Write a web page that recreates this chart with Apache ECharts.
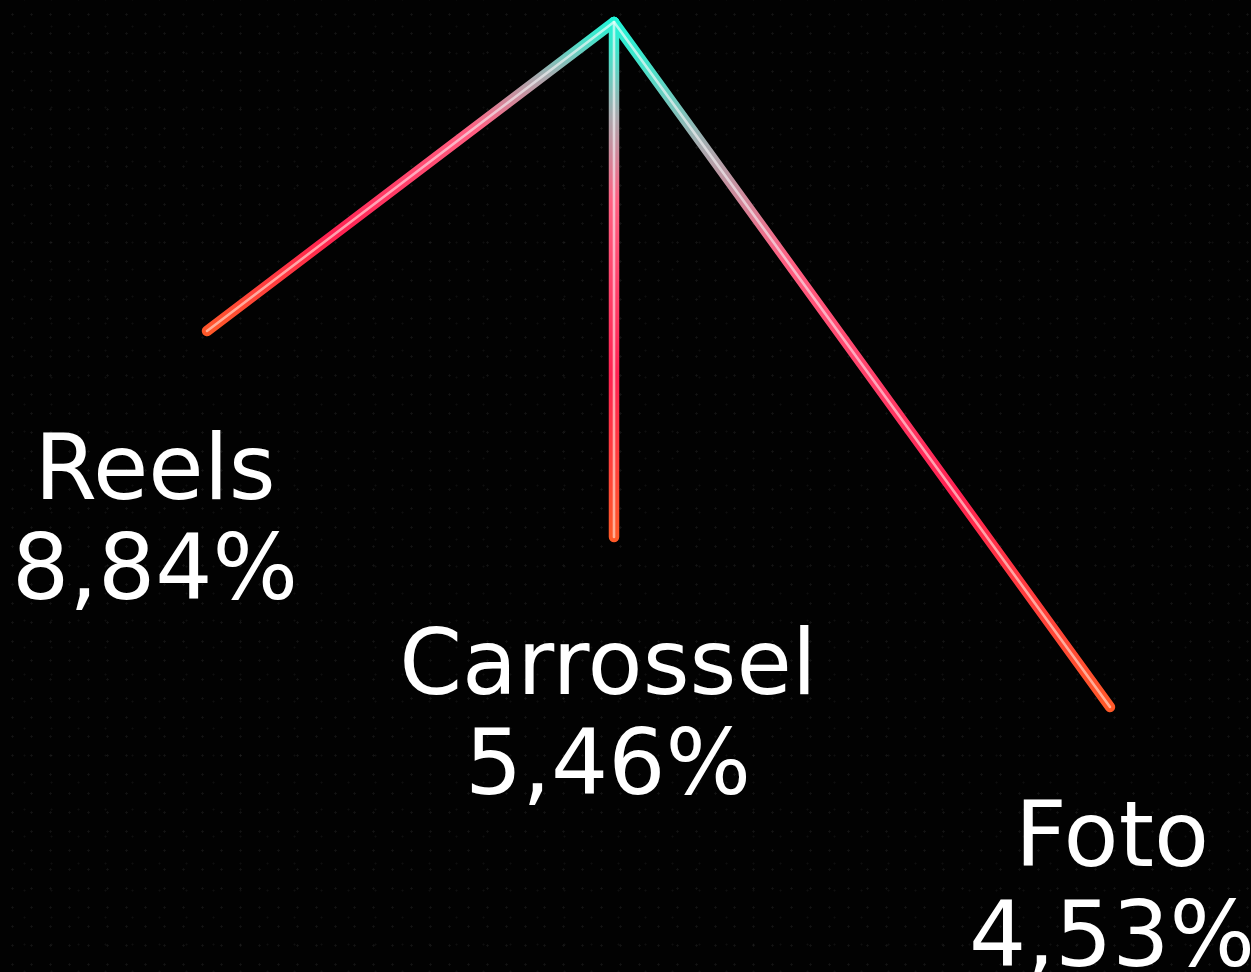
<!DOCTYPE html>
<html>
<head>
<meta charset="utf-8">
<script src="https://cdn.jsdelivr.net/npm/echarts@6/dist/echarts.min.js"></script>
<style>
  html, body { margin: 0; padding: 0; width: 100%; height: 100%; background: #020202; }
  body {
    background-color: #020202;
    background-image:
      radial-gradient(circle, rgba(255,255,255,0.07) 0.9px, transparent 1.3px),
      radial-gradient(circle, rgba(255,255,255,0.05) 0.8px, transparent 1.2px);
    background-size: 19px 19px, 27px 27px;
    background-position: 3px 5px, 11px 13px;
  }
  #chart { width: 1251px; height: 972px; }
</style>
</head>
<body>
<div id="chart"></div>
<script>
// ---- data ----
const categories = ['Reels', 'Carrossel', 'Foto'];
const values = [8.84, 5.46, 4.53];           // engagement %
const spread = [-4.07, 0, 4.96];             // horizontal end of each branch (axis units, apex = 0)
const depth = [3.09, 5.15, 6.85];            // drop of each branch below the apex (axis units)

// ---- layout / style ----
const labelOffsets = [[-52, 22], [-6, 11], [2, 13]];

const chart = echarts.init(document.getElementById('chart'), null, { renderer: 'canvas' });

function outerGradient() {
  return new echarts.graphic.LinearGradient(0, 0, 0, 1, [
    { offset: 0, color: '#1ff5d8' },
    { offset: 0.06, color: '#3fe6cc' },
    { offset: 0.19, color: '#aaa9ae' },
    { offset: 0.35, color: '#ff6082' },
    { offset: 0.68, color: '#ff2252' },
    { offset: 1, color: '#ff5a28' }
  ]);
}
function coreGradient() {
  return new echarts.graphic.LinearGradient(0, 0, 0, 1, [
    { offset: 0, color: 'rgba(225,255,250,0.75)' },
    { offset: 0.5, color: 'rgba(255,200,215,0.75)' },
    { offset: 1, color: 'rgba(255,205,185,0.75)' }
  ]);
}
const fmt = v => v.toFixed(2).replace('.', ',') + '%';

const series = [];
categories.forEach((name, i) => {
  const pts = [[0, 0], [spread[i], depth[i]]];
  series.push({
    type: 'line',
    name: name,
    data: pts,
    symbol: 'none',
    silent: true,
    animation: false,
    z: 2,
    lineStyle: { width: 10.5, color: outerGradient(), cap: 'round', join: 'round' }
  });
  series.push({
    type: 'line',
    name: name + '-core',
    data: pts,
    symbol: 'none',
    silent: true,
    animation: false,
    z: 3,
    lineStyle: { width: 2.6, color: coreGradient(), cap: 'round' }
  });
});

series.push({
  type: 'scatter',
  name: 'labels',
  silent: true,
  animation: false,
  symbolSize: 2,
  itemStyle: { color: 'rgba(0,0,0,0)', opacity: 1 },
  z: 4,
  data: categories.map((name, i) => ({
    value: [spread[i], depth[i]],
    label: {
      show: true,
      position: 'bottom',
      distance: 72,
      offset: labelOffsets[i],
      formatter: name + '\n' + fmt(values[i]),
      color: '#ffffff',
      opacity: 1,
      fontFamily: 'DejaVu Sans',
      fontWeight: 'normal',
      fontSize: 90,
      lineHeight: 100,
      align: 'center'
    }
  }))
});

chart.setOption({
  backgroundColor: 'transparent',
  animation: false,
  grid: { left: 0, right: 0, top: 0, bottom: 0 },
  xAxis: { type: 'value', min: -6.14, max: 6.37, show: false },
  yAxis: { type: 'value', min: -0.22, max: 9.50, inverse: true, show: false },
  series: series
});
</script>
</body>
</html>
